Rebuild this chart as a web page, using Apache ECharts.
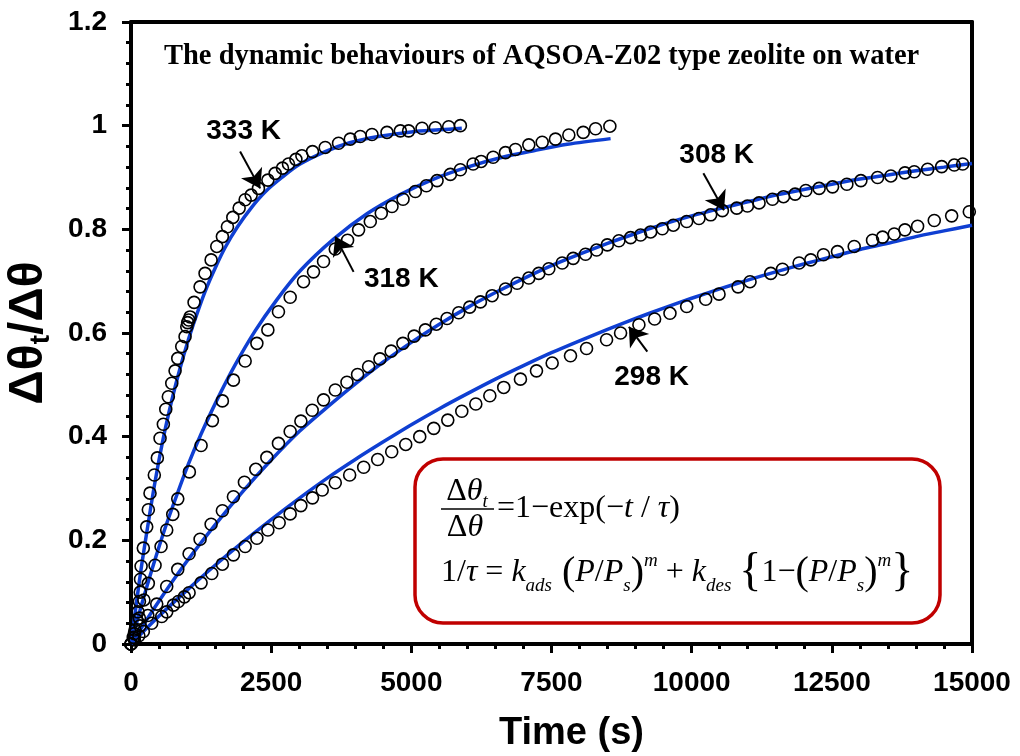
<!DOCTYPE html>
<html>
<head>
<meta charset="utf-8">
<script src="https://cdn.jsdelivr.net/npm/echarts@6/dist/echarts.min.js"></script>
<style>
  html, body { margin: 0; padding: 0; background: #fff; }
  #main { width: 1020px; height: 756px; }
</style>
</head>
<body>
<div id="main"></div>
<script>
// measured points [time (s), dtheta_t/dtheta]
const pts333 = [[0,0],[40,0.013],[71,0.027],[100,0.046],[125,0.062],[150,0.082],[165,0.1],[170,0.125],[180,0.15],[220,0.185],[280,0.226],[309,0.259],[339,0.291],[416,0.326],[470,0.359],[518,0.397],[577,0.424],[620,0.453],[666,0.477],[727,0.503],[786,0.527],[834,0.551],[905,0.574],[964,0.593],[995,0.612],[1010,0.62],[1030,0.625],[1054,0.631],[1125,0.659],[1232,0.689],[1321,0.715],[1429,0.741],[1530,0.767],[1630,0.786],[1720,0.805],[1816,0.823],[1929,0.841],[2036,0.857],[2143,0.866],[2273,0.879],[2441,0.895],[2571,0.908],[2702,0.918],[2809,0.926],[2941,0.935],[3048,0.942],[3237,0.95],[3464,0.958],[3702,0.966],[3911,0.974],[4089,0.979],[4298,0.983],[4566,0.987],[4804,0.99],[4952,0.99],[5191,0.995],[5429,0.996],[5666,0.998],[5875,1.0]]
const pts318 = [[0,0],[60,0.02],[150,0.05],[230,0.085],[309,0.117],[429,0.152],[536,0.188],[637,0.22],[745,0.25],[834,0.28],[1041,0.332],[1250,0.383],[1452,0.431],[1630,0.469],[1827,0.509],[2036,0.546],[2245,0.58],[2441,0.606],[2630,0.641],[2839,0.669],[3077,0.699],[3255,0.718],[3434,0.738],[3643,0.762],[3863,0.779],[4059,0.799],[4268,0.815],[4464,0.831],[4655,0.844],[4852,0.858],[5071,0.873],[5268,0.884],[5459,0.894],[5696,0.906],[5875,0.915],[6102,0.926],[6245,0.931],[6459,0.939],[6679,0.948],[6857,0.954],[7095,0.963],[7334,0.968],[7571,0.974],[7809,0.982],[8066,0.987],[8286,0.994],[8541,0.999]]
const pts308 = [[0,0],[54,0.012],[161,0.035],[300,0.055],[459,0.077],[637,0.111],[834,0.144],[1036,0.174],[1232,0.202],[1429,0.231],[1630,0.257],[1827,0.284],[2023,0.312],[2226,0.337],[2423,0.36],[2630,0.387],[2839,0.41],[3030,0.43],[3232,0.451],[3434,0.471],[3643,0.49],[3852,0.505],[4041,0.52],[4238,0.535],[4440,0.55],[4640,0.565],[4850,0.58],[5050,0.594],[5250,0.606],[5446,0.617],[5637,0.628],[5845,0.639],[6041,0.65],[6232,0.66],[6441,0.672],[6679,0.685],[6887,0.696],[7095,0.706],[7273,0.715],[7452,0.724],[7691,0.735],[7887,0.744],[8107,0.752],[8304,0.76],[8495,0.77],[8702,0.778],[8911,0.784],[9089,0.789],[9268,0.795],[9477,0.801],[9673,0.808],[9911,0.815],[10130,0.821],[10339,0.828],[10548,0.836],[10804,0.841],[10994,0.845],[11202,0.851],[11441,0.858],[11638,0.863],[11845,0.868],[12036,0.875],[12273,0.879],[12513,0.882],[12768,0.887],[13018,0.894],[13316,0.9],[13553,0.903],[13804,0.909],[13970,0.911],[14209,0.916],[14459,0.921],[14684,0.924],[14834,0.926]]
const pts298 = [[0,0],[60,0.008],[140,0.016],[220,0.024],[369,0.04],[548,0.053],[637,0.062],[756,0.075],[845,0.082],[952,0.091],[1036,0.099],[1250,0.118],[1441,0.136],[1630,0.154],[1827,0.172],[2036,0.188],[2245,0.204],[2441,0.22],[2643,0.234],[2839,0.251],[3030,0.267],[3237,0.282],[3411,0.297],[3643,0.311],[3900,0.326],[4150,0.341],[4400,0.356],[4650,0.371],[4900,0.385],[5150,0.4],[5400,0.416],[5650,0.432],[5900,0.449],[6150,0.463],[6400,0.479],[6648,0.495],[6946,0.511],[7232,0.527],[7512,0.542],[7839,0.556],[8125,0.57],[8482,0.587],[8732,0.6],[9059,0.616],[9339,0.627],[9613,0.638],[9911,0.651],[10250,0.665],[10488,0.675],[10827,0.689],[11041,0.699],[11411,0.715],[11620,0.723],[11916,0.735],[12125,0.741],[12351,0.751],[12601,0.757],[12899,0.767],[13226,0.779],[13405,0.785],[13613,0.791],[13804,0.799],[14030,0.806],[14327,0.817],[14637,0.826],[14952,0.834]]

// fitted curves
const fit333 = [[0,0],[100,0.082],[191,0.153],[300,0.228],[429,0.313],[570,0.394],[727,0.47],[870,0.53],[1023,0.587],[1170,0.635],[1321,0.68],[1500,0.725],[1679,0.765],[1900,0.805],[2155,0.843],[2400,0.873],[2691,0.9],[3000,0.925],[3464,0.95],[3900,0.967],[4411,0.979],[5000,0.988],[5500,0.992],[5900,0.995]]
const fit318 = [[0,0],[200,0.08],[400,0.153],[600,0.221],[816,0.287],[1023,0.347],[1250,0.405],[1530,0.47],[1850,0.537],[2214,0.604],[2600,0.664],[3018,0.72],[3613,0.781],[4209,0.83],[4800,0.867],[5398,0.897],[6000,0.92],[6589,0.938],[7200,0.952],[7780,0.964],[8554,0.975]]
const fit308 = [[0,0],[500,0.083],[1000,0.16],[1500,0.23],[2000,0.295],[2500,0.355],[3000,0.41],[3500,0.457],[4000,0.502],[4500,0.544],[5000,0.582],[5500,0.617],[6000,0.649],[6500,0.678],[7000,0.705],[7500,0.73],[8000,0.752],[8500,0.773],[9000,0.792],[9500,0.81],[10000,0.826],[10500,0.84],[11000,0.853],[11500,0.866],[12000,0.877],[12500,0.887],[13000,0.897],[13500,0.905],[14000,0.913],[14500,0.92],[15000,0.927]]
const fit298 = [[0,0],[500,0.054],[1000,0.104],[1500,0.152],[2000,0.197],[2500,0.24],[3000,0.281],[3500,0.32],[4000,0.356],[4500,0.39],[5000,0.423],[5500,0.454],[6000,0.483],[6500,0.511],[7000,0.537],[7500,0.562],[8000,0.585],[8500,0.607],[9000,0.628],[9500,0.648],[10000,0.667],[10500,0.685],[11000,0.702],[11500,0.718],[12000,0.733],[12500,0.747],[13000,0.761],[13500,0.773],[14000,0.786],[14500,0.797],[15000,0.808]]

// temperature tags and their arrows (tail -> tip)
const tagNames = ['333 K', '318 K', '308 K', '298 K']
const tagPos = [[2009, 0.99], [4821, 0.704], [10446, 0.942], [9286, 0.514]]
const arrowCoords = [
    [[1946, 0.95], [2304, 0.879]],
    [[3970, 0.718], [3643, 0.786]],
    [[10209, 0.908], [10577, 0.837]],
    [[9209, 0.564], [8880, 0.612]]
]

const chartDom = document.getElementById('main')
const myChart = echarts.init(chartDom, null, { renderer: 'canvas' })

const sans = 'Liberation Sans'
const serif = 'Liberation Serif'
const fitBlue = '#0f3fd2'

const frameAxis = {
    type: 'value',
    axisLine: { show: true, onZero: false, lineStyle: { color: '#000', width: 4 } },
    axisTick: { show: false },
    axisLabel: { show: false },
    splitLine: { show: false }
}

const dots = (data) => ({
    type: 'scatter',
    data,
    symbol: 'circle',
    symbolSize: 12,
    itemStyle: { color: 'rgba(0,0,0,0)', borderColor: '#000', borderWidth: 1.6, opacity: 1 },
    z: 3
})
const fit = (data) => ({
    type: 'line',
    data,
    showSymbol: false,
    smooth: 0.3,
    lineStyle: { color: fitBlue, width: 3.5 },
    z: 2
})

const option = {
    animation: false,
    backgroundColor: '#fff',
    title: {
        text: 'The dynamic behaviours of AQSOA-Z02 type zeolite on water',
        left: 159,
        top: 37,
        textStyle: { fontFamily: serif, fontWeight: 'bold', fontSize: 28.5, color: '#000' }
    },
    grid: { left: 131, right: 48, top: 22, bottom: 112, outerBoundsMode: 'none' },
    xAxis: [
        {
            type: 'value',
            min: 0,
            max: 15000,
            interval: 2500,
            name: 'Time (s)',
            nameLocation: 'middle',
            nameGap: 71,
            nameTextStyle: { fontFamily: sans, fontWeight: 'bold', fontSize: 38, color: '#000', padding: [0, 0, 0, 40] },
            axisLine: { onZero: false, lineStyle: { color: '#000', width: 4 } },
            axisTick: { show: true, length: 9, lineStyle: { color: '#000', width: 3 } },
            minorTick: { show: true, splitNumber: 5, length: 5, lineStyle: { color: '#000', width: 3 } },
            axisLabel: {
                margin: 25,
                fontFamily: sans,
                fontWeight: 'bold',
                fontSize: 28,
                color: '#000',
                formatter: (v) => String(v)
            },
            splitLine: { show: false }
        },
        Object.assign({ position: 'top', min: 0, max: 15000 }, frameAxis)
    ],
    yAxis: [
        {
            type: 'value',
            min: 0,
            max: 1.2,
            interval: 0.2,
            name: '{m|Δθ}{s|t}{m|/Δθ}',
            nameLocation: 'middle',
            nameGap: 76,
            nameRotate: 90,
            nameTextStyle: {
                rich: {
                    m: { fontFamily: sans, fontWeight: 'bold', fontSize: 48, color: '#000', lineHeight: 52 },
                    s: { fontFamily: sans, fontWeight: 'bold', fontSize: 28, color: '#000', lineHeight: 30, verticalAlign: 'bottom' }
                }
            },
            axisLine: { onZero: false, lineStyle: { color: '#000', width: 4 } },
            axisTick: { show: true, length: 9, lineStyle: { color: '#000', width: 3 } },
            minorTick: { show: true, splitNumber: 5, length: 5, lineStyle: { color: '#000', width: 3 } },
            axisLabel: { margin: 24, fontFamily: sans, fontWeight: 'bold', fontSize: 28, color: '#000' },
            splitLine: { show: false }
        },
        Object.assign({ position: 'right', min: 0, max: 1.2 }, frameAxis)
    ],
    series: [
        fit(fit333), fit(fit318), fit(fit308), fit(fit298),
        dots(pts333), dots(pts318), dots(pts308), dots(pts298),
        {
            type: 'lines',
            coordinateSystem: 'cartesian2d',
            symbol: ['none', 'arrow'],
            symbolSize: [0, 18],
            lineStyle: { color: '#000', width: 2, opacity: 1 },
            data: arrowCoords.map((c) => ({ coords: c })),
            z: 4
        },
        {
            type: 'scatter',
            symbolSize: 0,
            itemStyle: { opacity: 1 },
            data: tagNames.map((n, i) => ({ name: n, value: tagPos[i] })),
            label: {
                show: true,
                position: 'inside',
                formatter: '{b}',
                fontFamily: sans,
                fontWeight: 'bold',
                fontSize: 28,
                color: '#000'
            },
            z: 5
        }
    ],
    graphic: [
        {
            type: 'rect',
            shape: { x: 415, y: 459, width: 525, height: 164, r: 28 },
            style: { fill: '#fff', stroke: '#c00000', lineWidth: 3.5 },
            z: 10
        },
        {
            type: 'text',
            x: 467,
            y: 492,
            z: 11,
            style: {
                text: '{u|Δ}{i|θ}{s|t}',
                align: 'center',
                verticalAlign: 'middle',
                fill: '#000',
                rich: {
                    u: { fontFamily: serif, fontSize: 32, lineHeight: 38 },
                    i: { fontFamily: serif, fontStyle: 'italic', fontSize: 32, lineHeight: 38 },
                    s: { fontFamily: serif, fontStyle: 'italic', fontSize: 19, lineHeight: 20, verticalAlign: 'bottom' }
                }
            }
        },
        {
            type: 'line',
            shape: { x1: 441, y1: 509, x2: 494, y2: 509 },
            style: { stroke: '#000', lineWidth: 1.6 },
            z: 11
        },
        {
            type: 'text',
            x: 465,
            y: 528,
            z: 11,
            style: {
                text: '{u|Δ}{i|θ}',
                align: 'center',
                verticalAlign: 'middle',
                fill: '#000',
                rich: {
                    u: { fontFamily: serif, fontSize: 32 },
                    i: { fontFamily: serif, fontStyle: 'italic', fontSize: 32 }
                }
            }
        },
        {
            type: 'text',
            x: 497,
            y: 509,
            z: 11,
            style: {
                text: '{u|=1−exp(−}{i|t}{u| / }{i|τ}{u|)}',
                align: 'left',
                verticalAlign: 'middle',
                fill: '#000',
                rich: {
                    u: { fontFamily: serif, fontSize: 32 },
                    i: { fontFamily: serif, fontStyle: 'italic', fontSize: 32 }
                }
            }
        },
        {
            type: 'text',
            x: 441,
            y: 573,
            z: 11,
            style: {
                text: '{u|1/}{i|τ}{u| = }{i|k}{s|ads}{p| (}{i|P}{u|/}{i|P}{s|s}{p|)}{h|m}{u| + }{i|k}{s|des}{u| }' +
                    '{' + '{u|1−}{p|(}{i|P}{u|/}{i|P}{s|s}{p|)}{h|m}' + '}',
                align: 'left',
                verticalAlign: 'middle',
                fill: '#000',
                fontFamily: serif,
                fontSize: 46,
                lineHeight: 44,
                rich: {
                    u: { fontFamily: serif, fontSize: 32, lineHeight: 44 },
                    i: { fontFamily: serif, fontStyle: 'italic', fontSize: 32, lineHeight: 44 },
                    p: { fontFamily: serif, fontSize: 40, lineHeight: 44 },
                    s: { fontFamily: serif, fontStyle: 'italic', fontSize: 19, lineHeight: 22, verticalAlign: 'bottom' },
                    h: { fontFamily: serif, fontStyle: 'italic', fontSize: 19, lineHeight: 22, verticalAlign: 'top' }
                }
            }
        }
    ]
}

option && myChart.setOption(option)
</script>
</body>
</html>
